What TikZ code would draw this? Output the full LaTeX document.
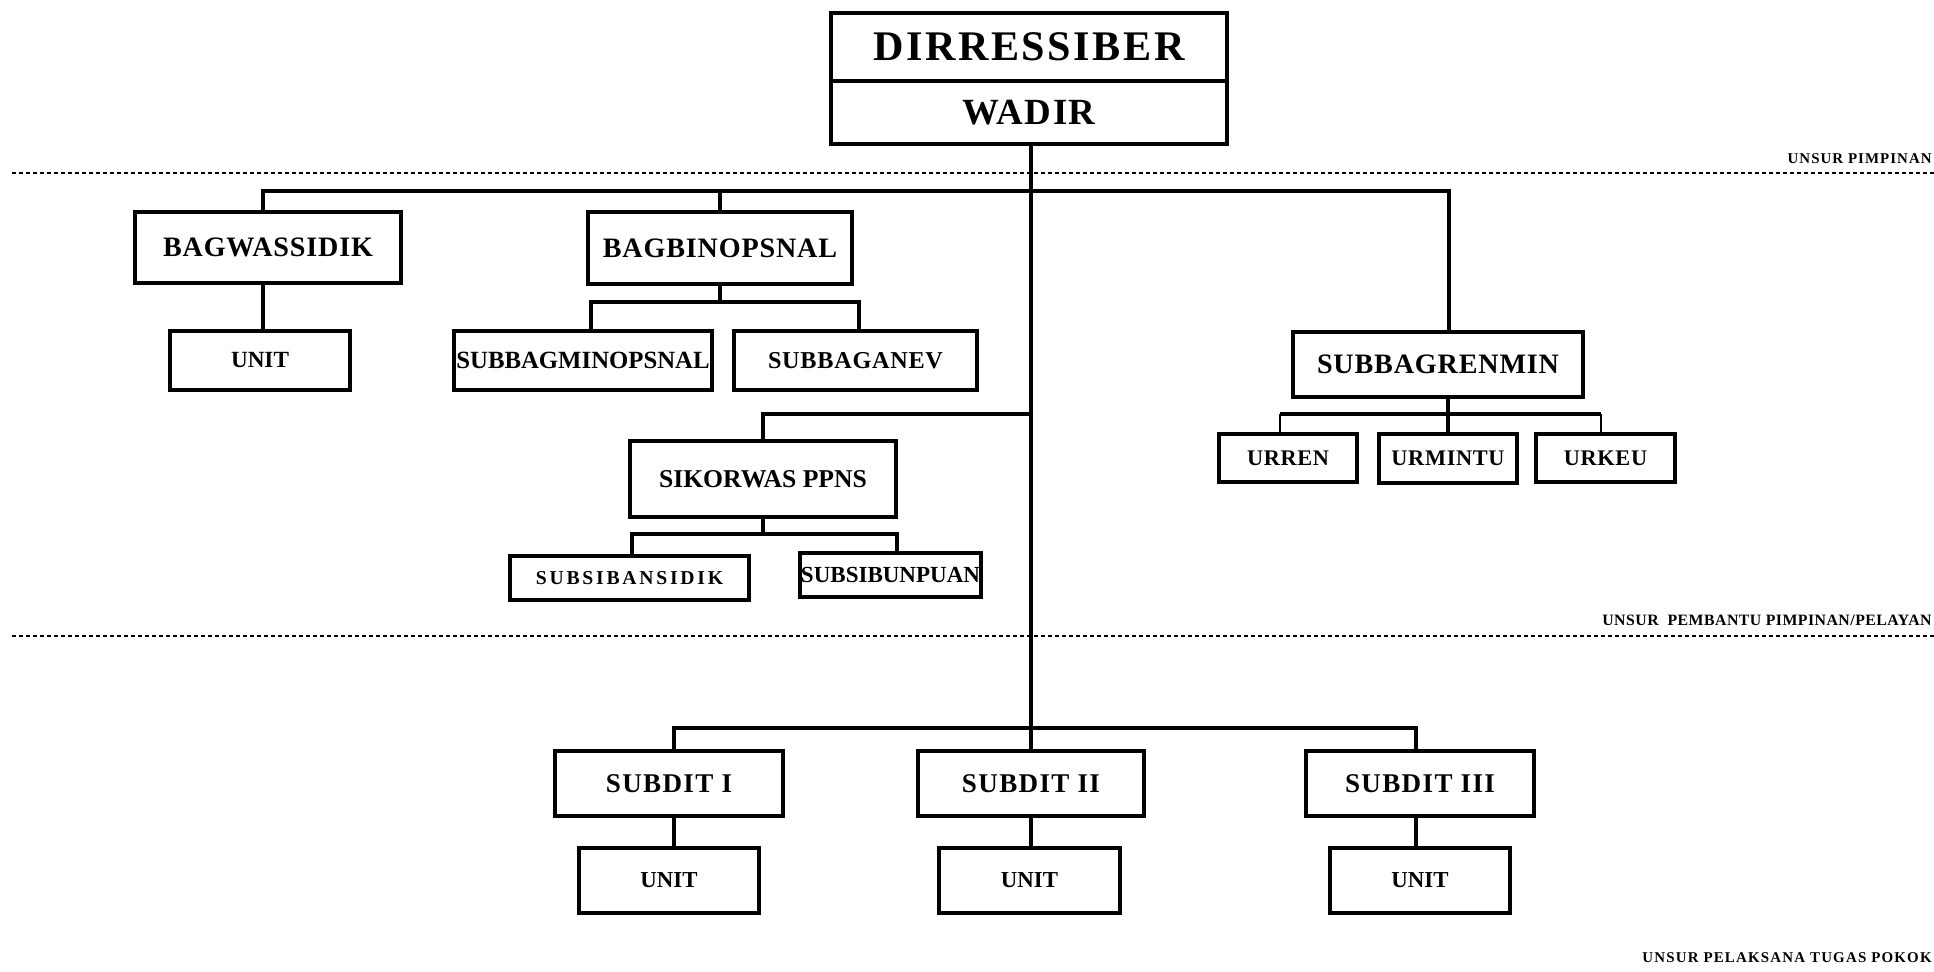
\documentclass[tikz,border=0pt]{standalone}
\usepackage{fontspec}
\setmainfont{Liberation Serif}
\usepackage{tikz}
\usetikzlibrary{positioning, calc}
\tikzstyle{head} = [rectangle, minimum width=7.92cm, inner sep=0pt, text centered, draw=black, line width=0.08cm, font=\bfseries]
\tikzstyle{unitbox} = [rectangle, inner sep=0pt, text centered, draw=black, line width=0.08cm, font=\bfseries]
\tikzstyle{link} = [line width=0.07cm]
\tikzstyle{thinlink} = [line width=0.03cm]
\tikzstyle{sepline} = [line width=0.03cm, dash pattern=on 0.09cm off 0.05cm]
\tikzstyle{unsur} = [inner sep=0pt, font=\bfseries]

\begin{document}
\begin{tikzpicture}[x=0.02cm, y=-0.02cm, node distance=1.94cm]
\useasboundingbox (0,0) rectangle (1934,971);

% pimpinan
\node (dir) [head, minimum height=1.36cm] at (1029,47) {{\fontsize{24}{28}\selectfont\addfontfeatures{LetterSpace=6}DIRRESSIBER}};
\node (wadir) [head, minimum height=1.26cm] at (1029,112.5) {{\fontsize{21}{24}\selectfont\addfontfeatures{LetterSpace=4}WADIR}};

% pembantu pimpinan
\node (bagwas) [unitbox, minimum width=5.32cm, minimum height=1.42cm] at (268,247.5) {{\fontsize{16}{18}\selectfont\addfontfeatures{LetterSpace=3}BAGWASSIDIK}};
\node (unit1) [unitbox, minimum width=3.6cm, minimum height=1.18cm] at (260,360.5) {{\fontsize{13.2}{15}\selectfont UNIT}};
\node (bagbin) [unitbox, minimum width=5.28cm, minimum height=1.44cm] at (720,248) {{\fontsize{16}{18}\selectfont\addfontfeatures{LetterSpace=3}BAGBINOPSNAL}};
\node (minops) [unitbox, minimum width=5.16cm, minimum height=1.18cm] at (583,360.5) {{\fontsize{14.1}{16}\selectfont SUBBAGMINOPSNAL}};
\node (anev) [unitbox, minimum width=4.86cm, minimum height=1.18cm] at (855.5,360.5) {{\fontsize{13.8}{16}\selectfont\addfontfeatures{LetterSpace=3}SUBBAGANEV}};
\node (sikor) [unitbox, minimum width=5.32cm, minimum height=1.52cm] at (763,479) {{\fontsize{14.6}{17}\selectfont SIKORWAS PPNS}};
\node (bansidik) [unitbox, minimum width=4.78cm, minimum height=0.88cm] at (629.5,578) {{\fontsize{11.2}{13}\selectfont\addfontfeatures{LetterSpace=14}SUBSIBANSIDIK}};
\node (bunpuan) [unitbox, minimum width=3.62cm, minimum height=0.88cm] at (890.5,575) {{\fontsize{13.1}{15}\selectfont SUBSIBUNPUAN}};
\node (renmin) [unitbox, minimum width=5.8cm, minimum height=1.3cm] at (1438,364.5) {{\fontsize{16}{18}\selectfont\addfontfeatures{LetterSpace=3}SUBBAGRENMIN}};
\node (urren) [unitbox, minimum width=2.76cm, minimum height=0.96cm] at (1288,458) {{\fontsize{12.7}{15}\selectfont\addfontfeatures{LetterSpace=3}URREN}};
\node (urmintu) [unitbox, minimum width=2.76cm, minimum height=0.98cm] at (1448,458.5) {{\fontsize{12.7}{15}\selectfont\addfontfeatures{LetterSpace=3}URMINTU}};
\node (urkeu) [unitbox, minimum width=2.78cm, minimum height=0.96cm] at (1605.5,458) {{\fontsize{12.7}{15}\selectfont\addfontfeatures{LetterSpace=3}URKEU}};

% pelaksana tugas pokok
\node (subdit1) [unitbox, minimum width=4.56cm, minimum height=1.3cm] at (669,783.5) {{\fontsize{15.4}{18}\selectfont\addfontfeatures{LetterSpace=5}SUBDIT I}};
\node (subdit2) [unitbox, minimum width=4.54cm, minimum height=1.3cm] at (1031,783.5) {{\fontsize{15.4}{18}\selectfont\addfontfeatures{LetterSpace=5}SUBDIT II}};
\node (subdit3) [unitbox, minimum width=4.56cm, minimum height=1.3cm] at (1420,783.5) {{\fontsize{15.4}{18}\selectfont\addfontfeatures{LetterSpace=5}SUBDIT III}};
\node (unitA) [unitbox, minimum width=3.62cm, minimum height=1.3cm, below of=subdit1] {{\fontsize{13}{15}\selectfont UNIT}};
\node (unitB) [unitbox, minimum width=3.62cm, minimum height=1.3cm, below of=subdit2, xshift=-0.03cm] {{\fontsize{13}{15}\selectfont UNIT}};
\node (unitC) [unitbox, minimum width=3.6cm, minimum height=1.3cm, below of=subdit3] {{\fontsize{13}{15}\selectfont UNIT}};

% unsur labels
\node (lblA) [unsur, anchor=base east] at (1932,163) {{\fontsize{8.5}{10}\selectfont\addfontfeatures{LetterSpace=7}UNSUR PIMPINAN}};
\node (lblB) [unsur, anchor=base east] at (1932,625) {{\fontsize{9}{11}\selectfont\addfontfeatures{LetterSpace=3}UNSUR\ \ PEMBANTU PIMPINAN/PELAYAN}};
\node (lblC) [unsur, anchor=base east] at (1932,962) {{\fontsize{8.5}{10}\selectfont\addfontfeatures{LetterSpace=8}UNSUR PELAKSANA TUGAS POKOK}};
\draw[sepline] (12,173) -- (1934,173);
\draw[sepline] (12,636) -- (1934,636);

% junctions
\coordinate (topL) at (263,191);
\coordinate (topR) at (1449,191);
\coordinate (binL) at (591,302);
\coordinate (binR) at (859,302);
\coordinate (sikJ) at (1031,414);
\coordinate (sikL) at (632,534);
\coordinate (sikR) at (897,534);
\coordinate (renL) at (1280,414);
\coordinate (renR) at (1601,414);
\coordinate (botL) at (674,728);
\coordinate (botR) at (1416,728);

\draw[link] (wadir.south -| subdit2.north) -- (subdit2.north);
\draw[link] (topL |- bagwas.north) -- (topL) -- (topR) -- (topR |- renmin.north);
\draw[link] (bagbin.north) -- (bagbin.north |- topL);
\draw[link] (bagwas.south -| topL) -- (unit1.north -| topL);
\draw[link] (bagbin.south) -- (bagbin.south |- binL);
\draw[link] (binL |- minops.north) -- (binL) -- (binR) -- (binR |- anev.north);
\draw[link] (sikJ) -| (sikor.north);
\draw[link] (sikor.south) -- (sikor.south |- sikL);
\draw[link] (sikL |- bansidik.north) -- (sikL) -- (sikR) -- (sikR |- bunpuan.north);
\draw[link] (renmin.south -| urmintu.north) -- (urmintu.north);
\draw[link] (renL) -- (renR);
\draw[thinlink] (renL) -- (renL |- urren.north);
\draw[thinlink] (renR) -- (renR |- urkeu.north);
\draw[link] (botL |- subdit1.north) -- (botL) -- (botR) -- (botR |- subdit3.north);
\draw[link] (subdit1.south -| botL) -- (unitA.north -| botL);
\draw[link] (subdit2.south) -- (unitB.north -| subdit2.south);
\draw[link] (subdit3.south -| botR) -- (unitC.north -| botR);
\end{tikzpicture}
\end{document}
